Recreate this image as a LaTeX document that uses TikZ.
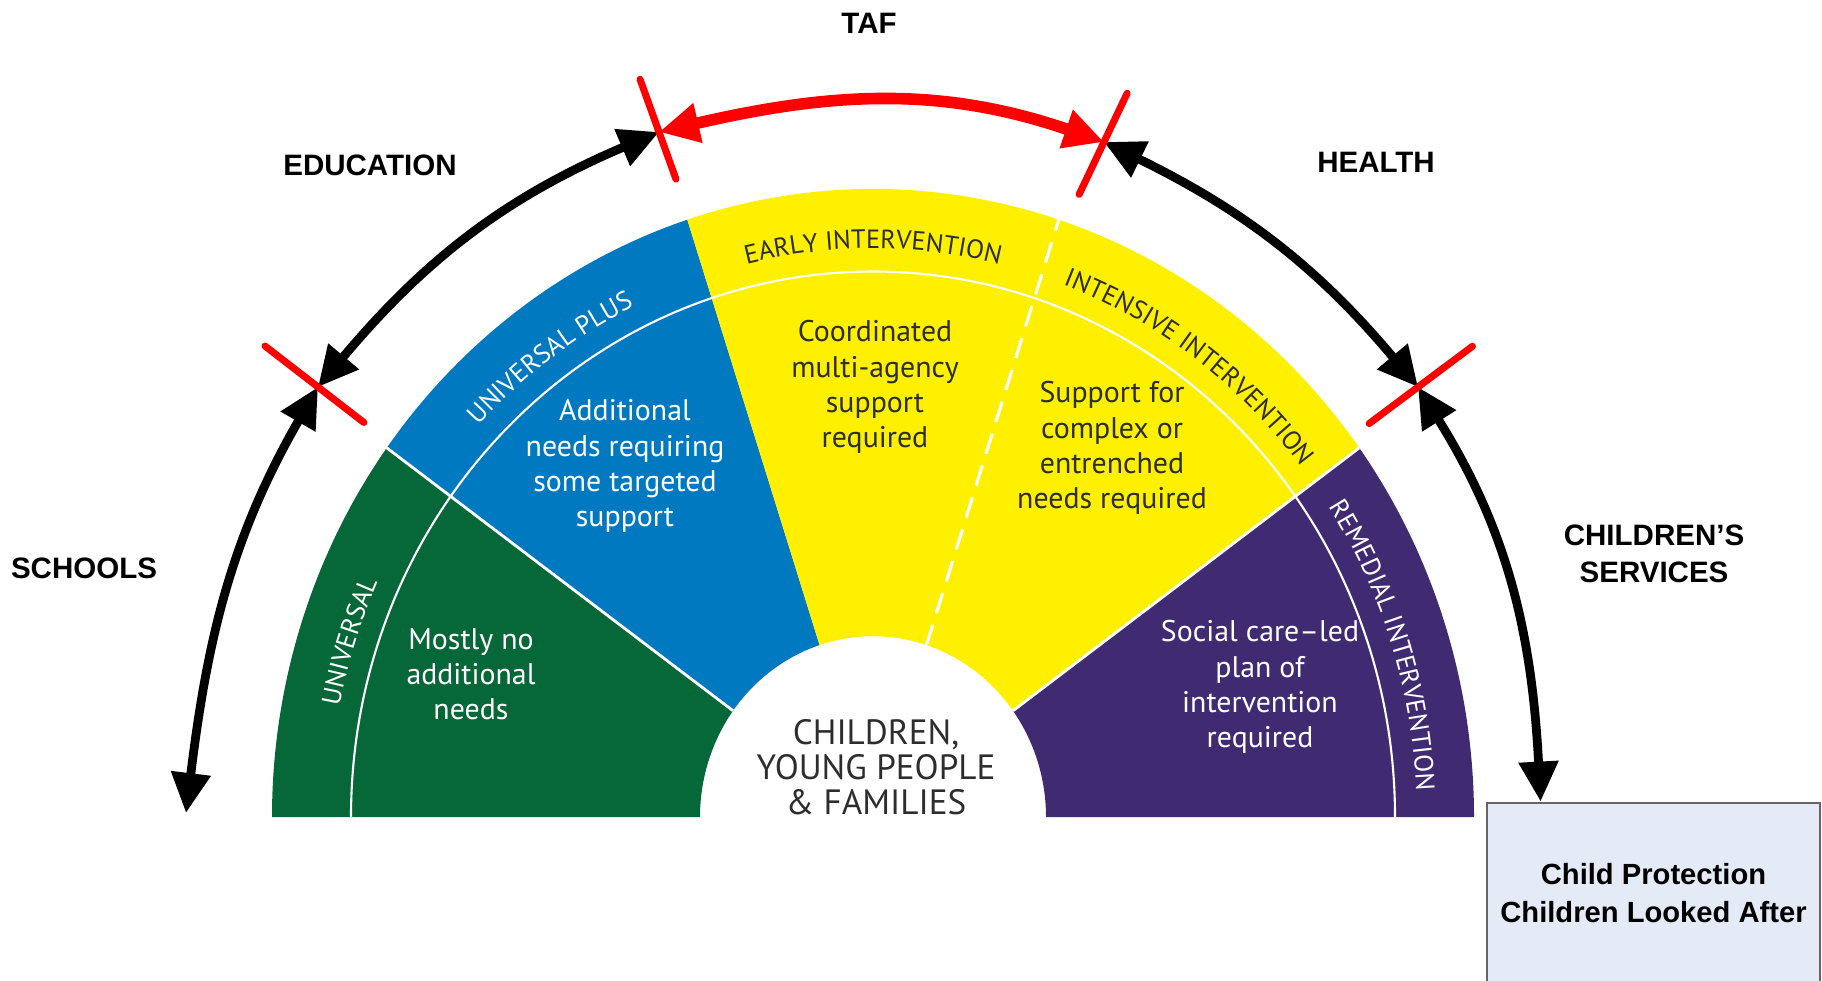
\documentclass[tikz,border=0pt]{standalone}
\usepackage{fontspec}
\setmainfont{Liberation Sans}
\newfontfamily\fanfont{PT Sans}
\usetikzlibrary{arrows.meta, decorations.text}

\definecolor{univgreen}{RGB}{6,103,56}
\definecolor{plusblue}{RGB}{0,121,193}
\definecolor{earlyyellow}{RGB}{255,240,0}
\definecolor{remedpurple}{RGB}{64,43,115}
\definecolor{boxfill}{RGB}{229,235,246}
\definecolor{inktext}{RGB}{45,45,45}

\tikzset{
  service/.style={font=\bfseries\fontsize{8.4}{10.6}\selectfont, align=center},
  need/.style={font=\fanfont\fontsize{8.5}{10}\selectfont, align=center},
  link/.style={line width=2.5pt, >={Triangle[length=4mm,width=3.8mm]}, <->},
  taflink/.style={link, red, line width=3.3pt},
  cut/.style={red, line width=2pt, line cap=round},
  cpbox/.style={draw=black!60, fill=boxfill, line width=0.8pt, minimum width=3.33cm,
    minimum height=1.8cm, inner sep=0pt, align=center, font=\bfseries\fontsize{8.3}{11}\selectfont},
}

\begin{document}
\begin{tikzpicture}
    \useasboundingbox (0,0) rectangle (18.22,9.80);
    \coordinate (C) at (8.73,1.63);

    % the fan
    \begin{scope}[shift={(C)}, yscale=1.045]
        \fill[univgreen] (180:6.01) arc[start angle=180, end angle=144, radius=6.01] -- (144:1.73) arc[start angle=144, end angle=180, radius=1.73] -- cycle;
        \fill[plusblue] (144:6.01) arc[start angle=144, end angle=108, radius=6.01] -- (108:1.73) arc[start angle=108, end angle=144, radius=1.73] -- cycle;
        \fill[earlyyellow] (108:6.01) arc[start angle=108, end angle=36, radius=6.01] -- (36:1.73) arc[start angle=36, end angle=108, radius=1.73] -- cycle;
        \fill[remedpurple] (36:6.01) arc[start angle=36, end angle=0, radius=6.01] -- (0:1.73) arc[start angle=0, end angle=36, radius=1.73] -- cycle;
        \draw[white, line width=0.6pt] (180:5.22) arc[start angle=180, end angle=0, radius=5.22];
        \draw[white, line width=0.8pt] (144:1.73) -- (144:6.01);
        \draw[white, line width=0.8pt] (36:1.73) -- (36:6.01);
        \draw[white, line width=0.9pt, dash pattern=on 6pt off 3.5pt] (72:1.73) -- (72:6.01);
    \end{scope}

    % ring labels
    \path[decorate, decoration={text along path, text align=center, text={|\fanfont\fontsize{7.5}{9}\selectfont\color{white}|UNIVERSAL}}]
        ([shift={(192:5.44 and 5.685)}]C) arc[start angle=192, end angle=132, x radius=5.44, y radius=5.685];
    \path[decorate, decoration={text along path, text align=center, text={|\fanfont\fontsize{7.5}{9}\selectfont\color{white}|UNIVERSAL PLUS}}]
        ([shift={(156:5.44 and 5.685)}]C) arc[start angle=156, end angle=96, x radius=5.44, y radius=5.685];
    \path[decorate, decoration={text along path, text align=center, text={|\fanfont\fontsize{7.5}{9}\selectfont\color{inktext}|EARLY INTERVENTION}}]
        ([shift={(120:5.44 and 5.685)}]C) arc[start angle=120, end angle=60, x radius=5.44, y radius=5.685];
    \path[decorate, decoration={text along path, text align=center, text={|\fanfont\fontsize{7.5}{9}\selectfont\color{inktext}|INTENSIVE INTERVENTION}}]
        ([shift={(84:5.44 and 5.685)}]C) arc[start angle=84, end angle=24, x radius=5.44, y radius=5.685];
    \path[decorate, decoration={text along path, text align=center, text={|\fanfont\fontsize{7.5}{9}\selectfont\color{white}|REMEDIAL INTERVENTION}}]
        ([shift={(48:5.44 and 5.685)}]C) arc[start angle=48, end angle=-12, x radius=5.44, y radius=5.685];

    % inside the sectors
    \node[need, white] (nuniv) at (4.71,3.06) {Mostly no\\additional\\needs};
    \node[need, white] (nplus) at (6.25,5.14) {Additional\\needs requiring\\some targeted\\support};
    \node[need, inktext] (nearly) at (8.75,5.93) {Coordinated\\multi-agency\\support\\required};
    \node[need, inktext] (nintens) at (11.12,5.32) {Support for\\complex or\\entrenched\\needs required};
    \node[need, white] (nremed) at (12.60,2.93) {Social care–led\\plan of\\intervention\\required};
    \node[font=\fanfont\fontsize{10}{10}\selectfont, inktext, align=center] (cyp) at (8.76,2.13) {CHILDREN,\\YOUNG PEOPLE\\\& FAMILIES};

    % services round the fan
    \node[service] (taf) at (8.69,9.57) {TAF};
    \node[service] (edu) at (3.70,8.15) {EDUCATION};
    \node[service] (health) at (13.76,8.18) {HEALTH};
    \node[service] (schools) at (0.84,4.12) {SCHOOLS};
    \node[service] (csc) at (16.54,4.26) {CHILDREN’S\\SERVICES};
    \node[cpbox] (cp) at (16.535,0.87) {Child Protection\\Children Looked After};

    \coordinate (tipL) at (1.86,1.67);
    \coordinate (xL) at (3.18,5.93);
    \coordinate (xTL) at (6.59,8.48);
    \coordinate (xTR) at (11.04,8.38);
    \coordinate (xR) at (14.18,5.93);

    \draw[link] (xL) to[out=240, in=83] (tipL);
    \draw[link] (xL) to[out=50, in=203] (xTL);
    \draw[taflink] (xTL) to[out=13, in=161] (xTR);
    \draw[link] (xTR) to[out=-26, in=130] (xR);
    \draw[link] (xR) to[out=302, in=93] ([xshift=5.5mm]cp.north west);

    \draw[cut] (xL) ++(142.3:0.67) -- ++(-37.7:1.25);
    \draw[cut] (xTL) ++(109.8:0.56) -- ++(-70.2:1.06);
    \draw[cut] (xTR) ++(64.6:0.54) -- ++(244.6:1.12);
    \draw[cut] (xR) ++(36.8:0.68) -- ++(216.8:1.29);
\end{tikzpicture}
\end{document}
